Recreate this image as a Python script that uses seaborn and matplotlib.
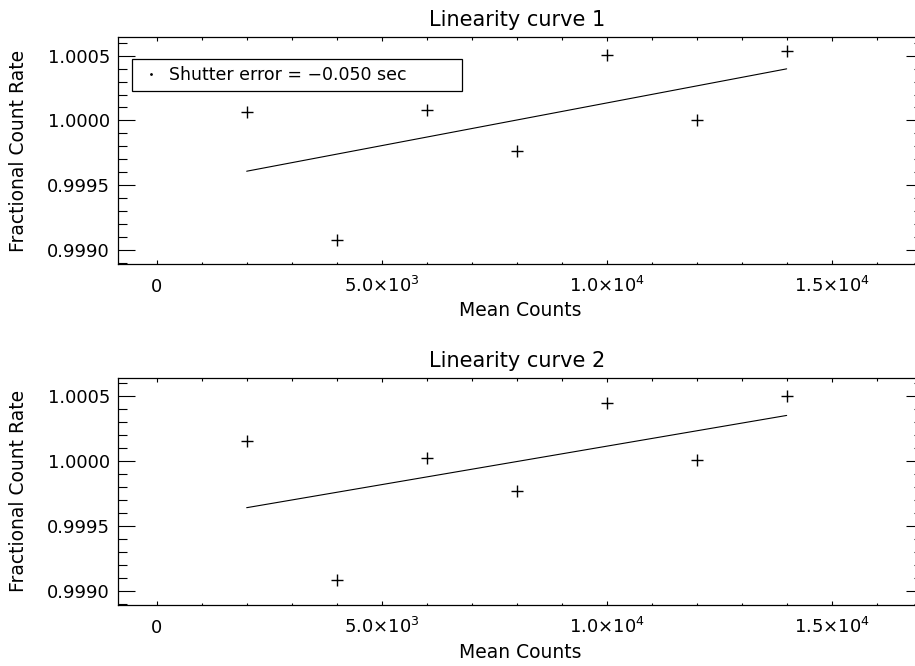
import matplotlib
matplotlib.use("Agg")
import matplotlib.pyplot as plt
from matplotlib.lines import Line2D
from matplotlib.ticker import FixedLocator, MultipleLocator
import seaborn as sns

# ---- data ----
mean_counts = [2000, 4000, 6000, 8000, 10000, 12000, 14000]
rate_curve1 = [1.000062, 0.999077, 1.000082, 0.999762, 1.000505, 1.000005, 1.000538]
rate_curve2 = [1.000154, 0.999082, 1.000026, 0.999767, 1.000446, 1.000011, 1.000498]
fit_x = [2000, 14000]
fit_curve1 = [0.999608, 1.000398]
fit_curve2 = [0.999641, 1.000351]

titles = ["Linearity curve 1", "Linearity curve 2"]
legend_text = "Shutter error = \u22120.050 sec"
x_label = "Mean Counts"
y_label = "Fractional Count Rate"

x_ticks = [0, 5000, 10000, 15000]
x_tick_labels = ["0", "5.0\u00d710$^{3}$", "1.0\u00d710$^{4}$", "1.5\u00d710$^{4}$"]
y_ticks = [0.9990, 0.9995, 1.0000, 1.0005]
y_tick_labels = ["0.9990", "0.9995", "1.0000", "1.0005"]

sns.set_style("ticks")
plt.rcParams["font.family"] = ["DejaVu Sans"]
plt.rcParams["mathtext.default"] = "regular"
plt.rcParams["text.color"] = "black"
plt.rcParams["axes.labelcolor"] = "black"
plt.rcParams["xtick.color"] = "black"
plt.rcParams["ytick.color"] = "black"
plt.rcParams["xtick.labelcolor"] = "black"
plt.rcParams["ytick.labelcolor"] = "black"

fig = plt.figure(figsize=(9.15, 6.66), dpi=100)
W, H = 915.0, 666.0
left, right = 118.3, 923.0
panels = [(37.3, 264.0), (377.7, 605.0)]

series = [rate_curve1, rate_curve2]
fits = [fit_curve1, fit_curve2]

for i, (top, bot) in enumerate(panels):
    ax = fig.add_axes([left / W, 1 - bot / H, (right - left) / W, (bot - top) / H])
    sns.scatterplot(x=mean_counts, y=series[i], marker="+", s=80, color="black",
                    linewidth=1.0, ax=ax, legend=False)
    sns.lineplot(x=fit_x, y=fits[i], color="black", linewidth=0.8, ax=ax, legend=False)

    ax.set_xlim(-853, 17030)
    ax.set_ylim(0.998892, 1.0006415)

    ax.xaxis.set_major_locator(FixedLocator(x_ticks))
    ax.set_xticklabels(x_tick_labels, fontsize=13)
    ax.xaxis.set_minor_locator(MultipleLocator(1000))
    ax.yaxis.set_major_locator(FixedLocator(y_ticks))
    ax.set_yticklabels(y_tick_labels, fontsize=13)
    ax.yaxis.set_minor_locator(MultipleLocator(0.0001))

    ax.tick_params(which="both", direction="in", top=True, right=True,
                   width=0.8, color="black", labelcolor="black")
    ax.tick_params(axis="x", which="major", length=3.2, pad=20.5)
    ax.tick_params(axis="x", which="minor", length=1.8)
    ax.tick_params(axis="y", which="major", length=12.2, pad=6)
    ax.tick_params(axis="y", which="minor", length=6.5)
    for lab in ax.get_xticklabels():
        lab.set_va("baseline")

    for sp in ax.spines.values():
        sp.set_visible(True)
        sp.set_linewidth(0.9)
        sp.set_color("black")

    ax.set_title(titles[i], fontsize=15, pad=8, x=0.495, color="black")
    ax.set_xlabel(x_label, fontsize=13.5, color="black")
    ax.xaxis.set_label_coords(0.5, -0.165)
    ax.set_ylabel(y_label, fontsize=13.5, color="black")
    ax.yaxis.set_label_coords(-0.112, 0.5)

    if i == 0:
        h = Line2D([], [], marker=".", markersize=2, linestyle="", color="black")
        leg = ax.legend([h], [legend_text], loc="upper left",
                        bbox_to_anchor=(0.0174, 0.753, 0.41, 0.15), mode="expand",
                        borderaxespad=0, fontsize=12.5, frameon=True, fancybox=False,
                        borderpad=0.4, handlelength=1.4, handletextpad=0.3,
                        labelcolor="black")
        fr = leg.get_frame()
        fr.set_edgecolor("black")
        fr.set_linewidth(0.9)
        fr.set_alpha(1)

fig.savefig("out.png", dpi=100)
